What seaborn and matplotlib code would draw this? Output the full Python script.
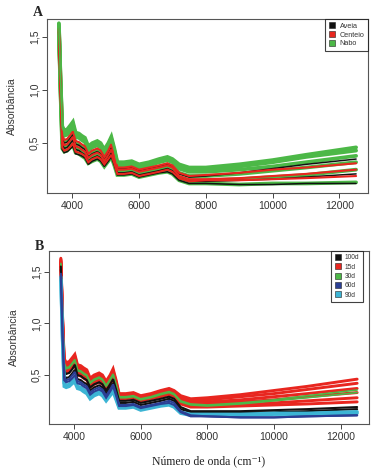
import numpy as np
import pandas as pd
import matplotlib
matplotlib.use("Agg")
import matplotlib.pyplot as plt
from matplotlib.lines import Line2D
import seaborn as sns

# ---------------- data ----------------
WN = [3600, 3650, 3700, 3760, 3850, 3950, 4020, 4100, 4200, 4280, 4380, 4480,
      4600, 4750, 4850, 4960, 5080, 5170, 5260, 5350, 5550, 5780, 6000, 6300,
      6600, 6850, 7000, 7200, 7500, 8000, 9000, 10000, 11000, 12500]

# Panel A
NABO_A = [
    [1.63,1.10,0.66,0.62,0.63,0.67,0.70,0.60,0.59,0.57,0.55,0.47,0.50,0.52,0.50,0.44,0.50,0.56,0.45,0.32,0.32,0.33,0.30,0.32,0.35,0.37,0.35,0.30,0.27,0.27,0.30,0.34,0.39,0.46],
    [1.62,1.08,0.64,0.60,0.61,0.65,0.68,0.58,0.57,0.55,0.53,0.45,0.48,0.50,0.48,0.42,0.48,0.54,0.43,0.31,0.31,0.32,0.29,0.31,0.34,0.36,0.34,0.28,0.25,0.25,0.28,0.32,0.37,0.43],
    [1.60,1.05,0.60,0.57,0.58,0.62,0.65,0.56,0.55,0.53,0.51,0.43,0.46,0.48,0.46,0.40,0.46,0.52,0.41,0.29,0.29,0.30,0.27,0.29,0.32,0.34,0.32,0.26,0.23,0.23,0.25,0.28,0.32,0.38],
    [1.58,1.02,0.55,0.51,0.52,0.56,0.59,0.50,0.49,0.47,0.45,0.38,0.41,0.43,0.41,0.35,0.41,0.47,0.37,0.26,0.26,0.27,0.24,0.26,0.28,0.30,0.28,0.22,0.19,0.19,0.21,0.24,0.27,0.32],
    [1.56,0.99,0.50,0.46,0.47,0.51,0.54,0.45,0.44,0.42,0.40,0.34,0.37,0.39,0.37,0.31,0.37,0.42,0.33,0.23,0.23,0.24,0.21,0.23,0.25,0.27,0.25,0.18,0.15,0.15,0.16,0.18,0.20,0.25],
    [1.54,0.96,0.45,0.42,0.43,0.46,0.48,0.41,0.40,0.38,0.36,0.31,0.33,0.35,0.33,0.28,0.33,0.37,0.29,0.20,0.20,0.21,0.18,0.20,0.22,0.23,0.21,0.15,0.12,0.12,0.11,0.12,0.12,0.13],
]
CENTEIO_A = [
    [1.58,1.03,0.57,0.53,0.54,0.58,0.61,0.52,0.51,0.49,0.47,0.40,0.43,0.45,0.43,0.37,0.43,0.49,0.38,0.27,0.27,0.28,0.25,0.27,0.29,0.31,0.29,0.22,0.19,0.20,0.22,0.25,0.27,0.31],
    [1.56,1.00,0.52,0.48,0.49,0.53,0.56,0.47,0.46,0.44,0.42,0.36,0.39,0.41,0.39,0.33,0.39,0.44,0.35,0.25,0.25,0.26,0.23,0.25,0.27,0.29,0.27,0.19,0.16,0.16,0.17,0.19,0.21,0.25],
    [1.55,0.97,0.46,0.43,0.44,0.47,0.50,0.42,0.41,0.40,0.38,0.32,0.35,0.37,0.35,0.30,0.35,0.39,0.31,0.21,0.21,0.22,0.19,0.21,0.23,0.25,0.23,0.17,0.14,0.15,0.15,0.16,0.17,0.19],
]
AVEIA_A = [
    [1.57,1.02,0.54,0.50,0.51,0.55,0.58,0.49,0.48,0.46,0.44,0.37,0.40,0.42,0.40,0.34,0.40,0.46,0.36,0.26,0.26,0.27,0.24,0.26,0.28,0.30,0.28,0.21,0.18,0.19,0.22,0.26,0.30,0.35],
    [1.55,0.99,0.49,0.45,0.46,0.50,0.53,0.44,0.43,0.41,0.39,0.33,0.36,0.38,0.36,0.30,0.36,0.41,0.32,0.22,0.22,0.23,0.20,0.22,0.24,0.26,0.24,0.17,0.14,0.14,0.15,0.16,0.18,0.21],
    [1.54,0.96,0.44,0.41,0.42,0.45,0.47,0.40,0.39,0.38,0.36,0.30,0.33,0.35,0.33,0.28,0.33,0.37,0.29,0.20,0.20,0.21,0.18,0.20,0.22,0.23,0.21,0.15,0.12,0.12,0.11,0.11,0.12,0.12],
]

# Panel B
D15_B = [
    [1.63,1.08,0.66,0.62,0.63,0.67,0.70,0.60,0.59,0.57,0.55,0.47,0.50,0.52,0.50,0.44,0.50,0.56,0.45,0.32,0.32,0.33,0.30,0.32,0.35,0.37,0.35,0.30,0.27,0.28,0.31,0.35,0.39,0.46],
    [1.62,1.06,0.64,0.60,0.61,0.65,0.68,0.58,0.57,0.55,0.53,0.45,0.48,0.50,0.48,0.42,0.48,0.54,0.43,0.31,0.31,0.32,0.29,0.31,0.34,0.36,0.34,0.28,0.25,0.26,0.29,0.32,0.36,0.42],
    [1.61,1.04,0.62,0.58,0.59,0.63,0.66,0.56,0.55,0.53,0.51,0.43,0.46,0.48,0.46,0.40,0.46,0.52,0.41,0.30,0.30,0.31,0.28,0.30,0.33,0.35,0.33,0.27,0.24,0.24,0.26,0.29,0.32,0.37],
    [1.60,1.02,0.60,0.56,0.57,0.61,0.64,0.54,0.53,0.51,0.49,0.42,0.45,0.47,0.45,0.39,0.45,0.50,0.40,0.29,0.29,0.30,0.27,0.29,0.31,0.33,0.31,0.25,0.22,0.22,0.24,0.26,0.29,0.33],
    [1.59,1.00,0.58,0.54,0.55,0.59,0.62,0.52,0.51,0.49,0.47,0.40,0.43,0.45,0.43,0.37,0.43,0.48,0.38,0.28,0.28,0.29,0.26,0.28,0.30,0.32,0.30,0.23,0.20,0.20,0.21,0.23,0.25,0.28],
    [1.58,0.98,0.56,0.52,0.53,0.57,0.60,0.50,0.49,0.47,0.45,0.38,0.41,0.43,0.41,0.36,0.41,0.46,0.37,0.27,0.27,0.28,0.25,0.27,0.29,0.31,0.29,0.22,0.19,0.19,0.20,0.21,0.22,0.24],
]
D30_B = [
    [1.58,1.01,0.61,0.57,0.58,0.62,0.65,0.55,0.54,0.52,0.50,0.43,0.46,0.48,0.46,0.40,0.46,0.51,0.41,0.29,0.29,0.30,0.27,0.29,0.32,0.34,0.32,0.25,0.22,0.21,0.23,0.26,0.30,0.355],
    [1.57,1.00,0.60,0.56,0.57,0.61,0.64,0.54,0.53,0.51,0.49,0.42,0.45,0.47,0.45,0.39,0.45,0.50,0.40,0.28,0.28,0.29,0.26,0.28,0.31,0.33,0.31,0.24,0.21,0.20,0.22,0.25,0.28,0.33],
]
D100_B = [
    [1.55,0.96,0.54,0.51,0.52,0.56,0.60,0.50,0.49,0.47,0.45,0.38,0.41,0.43,0.41,0.35,0.41,0.46,0.36,0.25,0.25,0.26,0.23,0.25,0.27,0.29,0.27,0.19,0.15,0.15,0.15,0.16,0.17,0.19],
    [1.52,0.93,0.50,0.47,0.48,0.52,0.55,0.46,0.45,0.43,0.41,0.35,0.38,0.40,0.38,0.32,0.38,0.42,0.33,0.23,0.23,0.24,0.21,0.23,0.25,0.27,0.25,0.17,0.14,0.14,0.14,0.14,0.15,0.17],
]
D60_B = [
    [1.48,0.90,0.48,0.45,0.46,0.50,0.53,0.44,0.43,0.41,0.39,0.33,0.36,0.38,0.36,0.30,0.36,0.41,0.32,0.21,0.21,0.22,0.19,0.21,0.23,0.25,0.23,0.15,0.11,0.10,0.09,0.09,0.10,0.11],
    [1.46,0.88,0.45,0.43,0.44,0.47,0.50,0.42,0.41,0.39,0.37,0.31,0.34,0.36,0.34,0.28,0.34,0.39,0.30,0.20,0.20,0.21,0.18,0.20,0.22,0.23,0.21,0.14,0.10,0.10,0.09,0.09,0.10,0.11],
]
D90_B = [
    [1.45,0.86,0.42,0.40,0.41,0.44,0.46,0.39,0.38,0.36,0.34,0.29,0.32,0.34,0.32,0.27,0.32,0.36,0.28,0.19,0.19,0.20,0.17,0.19,0.21,0.22,0.20,0.14,0.12,0.12,0.12,0.13,0.13,0.145],
    [1.42,0.84,0.39,0.38,0.39,0.42,0.43,0.37,0.36,0.34,0.32,0.27,0.30,0.32,0.30,0.25,0.30,0.34,0.26,0.18,0.18,0.19,0.16,0.18,0.20,0.21,0.19,0.13,0.11,0.11,0.11,0.12,0.12,0.13],
]

LEGEND_A = ["Aveia", "Centeio", "Nabo"]
LEGEND_B = ["100d", "15d", "30d", "60d", "90d"]
XTICKS = [4000, 6000, 8000, 10000, 12000]
YTICKS = [0.5, 1.0, 1.5]
YTICK_LABELS = ["0,5", "1,0", "1,5"]

BLACK = "#111111"
RED = "#e8261f"
GREEN = "#4cb847"
BLUE = "#2b3f94"
CYAN = "#3cb4d4"

# ---------------- plotting ----------------
sns.set_theme(style="white")
plt.rcParams["font.family"] = ["Liberation Sans", "DejaVu Sans"]

fig = plt.figure(figsize=(3.74, 4.71), dpi=100)
axA = fig.add_axes([47/374, 1-193/471, 321/374, 174/471])
axB = fig.add_axes([49/374, 1-424/471, 320/374, 173/471])


def to_long(curves, label):
    rows = []
    for i, c in enumerate(curves):
        for w, v in zip(WN, c):
            rows.append((label, f"{label}_{i}", w, v))
    return pd.DataFrame(rows, columns=["grupo", "amostra", "wn", "abs"])


def draw(ax, curves, label, color, lw):
    df = to_long(curves, label)
    sns.lineplot(data=df, x="wn", y="abs", units="amostra", estimator=None,
                 color=color, lw=lw, ax=ax, legend=False, sort=False,
                 solid_joinstyle="miter")


# Panel A layers
draw(axA, NABO_A, "Nabo", GREEN, 2.7)
draw(axA, AVEIA_A, "Aveia", BLACK, 1.1)
draw(axA, CENTEIO_A, "Centeio", RED, 1.5)
draw(axA, NABO_A[:2], "Nabo2", GREEN, 1.0)

# Panel B layers
draw(axB, D15_B, "15d", RED, 2.1)
draw(axB, D30_B, "30d", GREEN, 1.2)
draw(axB, D100_B, "100d", BLACK, 1.5)
draw(axB, D90_B, "90d", CYAN, 2.4)
draw(axB, D60_B, "60d", BLUE, 1.5)

for ax in (axA, axB):
    ax.set_xlim(3244, 12856)
    ax.set_xticks(XTICKS)
    ax.set_xticklabels([str(t) for t in XTICKS], fontsize=7.5, color="#333333")
    ax.set_yticks(YTICKS)
    ax.set_yticklabels(YTICK_LABELS, fontsize=7.5, rotation=90, va="center",
                       color="#333333")
    ax.tick_params(axis="both", direction="out", length=3.5, width=0.7,
                   color="#444444", left=True, bottom=True, pad=2)
    for s in ax.spines.values():
        s.set_color("#555555")
        s.set_linewidth(0.8)
    ax.set_xlabel("")
    ax.set_ylabel("Absorbância", fontsize=7.5, color="#333333", labelpad=9)
    ax.grid(False)

axA.set_ylim(0.03, 1.67)
axB.set_ylim(0.026, 1.70)

axB.set_xlabel("Número de onda (cm⁻¹)", fontsize=8.5,
               family=["Liberation Serif", "DejaVu Serif"], color="#222222",
               labelpad=10)

fig.text(33/374, 1-12/471, "A", fontsize=10, fontweight="bold",
         family=["Liberation Serif", "DejaVu Serif"], va="center")
fig.text(35/374, 1-247/471, "B", fontsize=10, fontweight="bold",
         family=["Liberation Serif", "DejaVu Serif"], va="center")


def legend(ax, labels, colors, fs, anchor, spacing):
    handles = [Line2D([], [], ls="", marker="s", markersize=4.5,
                      markerfacecolor=c, markeredgecolor="#222222",
                      markeredgewidth=0.4) for c in colors]
    lg = ax.legend(handles, labels, loc="upper right", bbox_to_anchor=anchor,
                   fontsize=fs, frameon=True, fancybox=False, borderpad=0.5,
                   handletextpad=0.5, labelspacing=spacing, handlelength=1.0,
                   borderaxespad=0.0)
    lg.get_frame().set_edgecolor("#111111")
    lg.get_frame().set_linewidth(0.8)
    for t in lg.get_texts():
        t.set_color("#333333")


legend(axA, LEGEND_A, [BLACK, RED, GREEN], 5.2, (1.0, 1.0), 0.25)
legend(axB, LEGEND_B, [BLACK, RED, GREEN, BLUE, CYAN], 4.8, (0.98, 1.0), 0.35)

fig.savefig("out.png", dpi=100)
